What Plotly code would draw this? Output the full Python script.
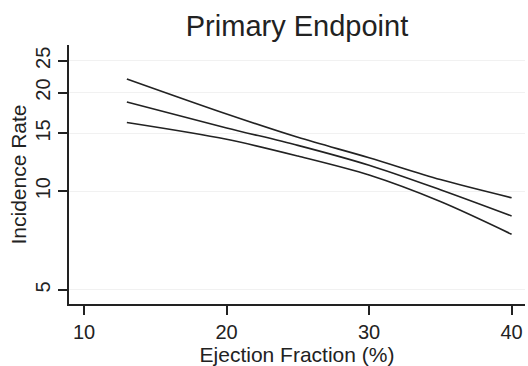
import plotly.graph_objects as go

# Data
ejection_fraction = [13, 20, 25, 30, 35, 40]
rate_upper = [22.0, 17.2, 14.6, 12.65, 10.85, 9.55]
rate_estimate = [18.7, 15.6, 13.8, 12.0, 10.1, 8.4]
rate_lower = [16.2, 14.4, 12.8, 11.2, 9.3, 7.39]

x_ticks = [10, 20, 30, 40]
y_ticks = [5, 10, 15, 20, 25]

line_style = dict(color="#222222", width=1.6, shape="spline", smoothing=0.9)

fig = go.Figure()
for name, vals in [("Upper", rate_upper), ("Estimate", rate_estimate), ("Lower", rate_lower)]:
    fig.add_trace(go.Scatter(x=ejection_fraction, y=vals, mode="lines", name=name,
                             line=line_style, showlegend=False))

font_family = "Liberation Sans, Arial, Helvetica, sans-serif"

fig.update_layout(
    width=528, height=366,
    margin=dict(l=69, r=3, t=45, b=62),
    paper_bgcolor="white", plot_bgcolor="white",
    font=dict(family=font_family, color="#222222", size=20),
    title=dict(text="Primary Endpoint", x=0.5, xref="paper", y=1 - 26 / 366,
               yref="container", xanchor="center", yanchor="middle",
               font=dict(size=29, color="#222222", family=font_family)),
)

fig.update_xaxes(
    range=[8.94, 40.94], tickvals=x_ticks, ticktext=[str(v) for v in x_ticks],
    showgrid=False, zeroline=False, showline=True, linecolor="#222222", linewidth=1.5,
    ticks="outside", ticklen=9, tickwidth=1.5, tickcolor="#222222",
    tickfont=dict(size=20),
    title=dict(text="Ejection Fraction (%)", font=dict(size=21), standoff=2),
)

fig.update_yaxes(
    type="log", range=[0.656, 1.446], tickvals=y_ticks, ticktext=[str(v) for v in y_ticks],
    tickangle=-90,
    showgrid=True, gridcolor="#f1f1f1", gridwidth=1,
    zeroline=False, showline=True, linecolor="#222222", linewidth=1.5,
    ticks="outside", ticklen=9, tickwidth=1.5, tickcolor="#222222",
    tickfont=dict(size=20),
    title=dict(text="Incidence Rate", font=dict(size=21), standoff=0),
)

fig.write_html("out.html")
